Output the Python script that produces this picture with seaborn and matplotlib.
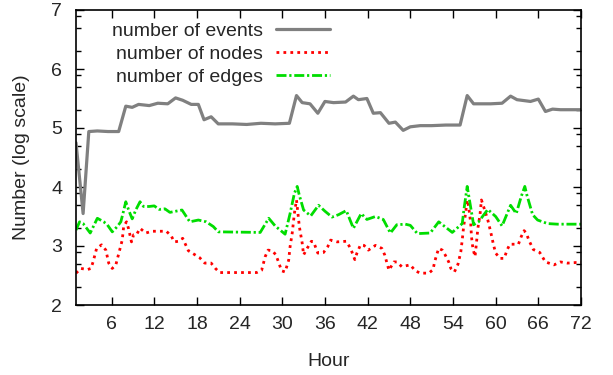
import numpy as np
import pandas as pd
import seaborn as sns
import matplotlib
matplotlib.use("Agg")
import matplotlib.pyplot as plt
from matplotlib.ticker import FixedLocator, NullLocator

# number of events (log10)
ev_x = [1, 2, 2.8, 4, 5.5, 7, 8, 8.9, 9.8, 11.3, 12.5, 13.9, 15, 16, 17.2, 18.2,
        19, 20, 21, 23, 25, 27, 29, 31, 32, 32.8, 33.9, 35, 36, 37.2, 38.9,
        40, 40.7, 41.9, 42.8, 43.8, 45, 45.9, 47, 48, 49.4, 51, 53, 55, 56,
        56.9, 59.3, 60.9, 62.1, 63, 64.9, 66, 67, 68, 69.1, 72]
ev_y = [4.75, 3.55, 4.94, 4.95, 4.94, 4.94, 5.37, 5.35, 5.40, 5.38, 5.42, 5.41,
        5.51, 5.47, 5.40, 5.40, 5.14, 5.19, 5.07, 5.07, 5.06, 5.08, 5.07, 5.08,
        5.55, 5.43, 5.41, 5.25, 5.45, 5.43, 5.44, 5.54, 5.48, 5.50, 5.25, 5.26,
        5.08, 5.10, 4.96, 5.02, 5.04, 5.04, 5.05, 5.05, 5.55, 5.41, 5.41, 5.42,
        5.54, 5.48, 5.45, 5.49, 5.28, 5.32, 5.31, 5.31]

# number of nodes (log10)
nd_x = [1, 1.7, 2.6, 3.1, 3.4, 3.9, 4.6, 5.2, 5.6, 6.1, 6.6, 7.2, 7.5, 7.7, 8.1,
        8.4, 8.8, 9.1, 9.5, 10, 10.8, 11.7, 13.7, 14.4, 14.8, 15.4, 16, 16.8,
        17.6, 18.4, 19.1, 20, 20.6, 21.2, 26.4, 27.1, 27.6, 28, 28.6, 29.1,
        29.5, 29.9, 30.4, 30.9, 31.1, 31.4, 31.7, 32, 32.1, 32.4, 32.8, 33,
        33.5, 34.1, 34.4, 35, 35.8, 36.4, 36.8, 37.7, 39, 39.6, 40.2, 40.5,
        41, 41.5, 42.1, 43.1, 44, 44.4, 45, 45.7, 46.1, 46.8, 48, 48.7, 49.4,
        50.6, 51.2, 51.4, 51.7, 52, 52.5, 52.9, 53.4, 53.7, 54.2, 54.7, 55.1,
        55.3, 55.5, 55.8, 56, 56.2, 56.5, 56.6, 56.8, 57.1, 57.3, 57.5, 57.8,
        58, 58.3, 58.9, 59.3, 59.7, 60, 60.6, 61.2, 61.6, 62, 63.2, 63.6, 64,
        64.3, 64.7, 65.3, 66.2, 67, 68.2, 69.1, 70.1, 71.3, 72]
nd_y = [2.54, 2.62, 2.60, 2.62, 2.73, 2.96, 3.02, 2.93, 2.71, 2.62, 2.68, 2.96,
        3.10, 3.33, 3.41, 3.29, 3.07, 3.19, 3.19, 3.30, 3.22, 3.25, 3.25, 3.17,
        3.07, 3.08, 3.13, 2.92, 2.86, 2.80, 2.71, 2.71, 2.62, 2.55, 2.55, 2.59,
        2.82, 2.93, 2.92, 2.85, 2.72, 2.58, 2.56, 2.76, 2.99, 3.22, 3.55, 3.78,
        3.67, 3.33, 3.05, 2.85, 2.96, 3.08, 3.07, 2.88, 2.89, 2.99, 3.10, 3.07,
        3.08, 2.96, 2.77, 2.88, 3.02, 3.01, 2.93, 3.01, 2.96, 2.85, 2.59, 2.73,
        2.73, 2.65, 2.68, 2.58, 2.54, 2.54, 2.60, 2.72, 2.85, 2.96, 2.93, 2.85,
        2.73, 2.62, 2.56, 2.69, 2.90, 3.10, 3.33, 3.58, 3.78, 3.67, 3.38, 3.16,
        2.96, 2.82, 3.05, 3.30, 3.53, 3.78, 3.67, 3.44, 3.24, 3.02, 2.88, 2.79,
        2.79, 2.93, 3.03, 3.03, 3.16, 3.26, 3.22, 3.09, 2.94, 2.89, 2.73, 2.68,
        2.73, 2.71, 2.72, 2.72]

# number of edges (log10)
ed_x = [1, 1.5, 2, 3, 4, 4.9, 5.4, 6.1, 6.8, 7.3, 7.6, 8, 8.4, 8.9, 9.4, 10,
        10.5, 11.3, 12, 12.7, 13.5, 14.2, 15.9, 17, 18.2, 19.3, 20.3, 21,
        26.9, 28.1, 29, 30.4, 31.1, 31.7, 32.1, 32.4, 33, 34, 35.1, 36, 37,
        37.9, 39, 40, 41.1, 41.9, 43.1, 44.2, 45.2, 46.1, 47.3, 48, 49, 50.8,
        52, 53.9, 55.3, 55.6, 56, 56.4, 56.9, 57.6, 58.9, 60, 60.9, 62.1, 62.9,
        63.6, 64.1, 64.4, 65.2, 65.9, 67.3, 68.7, 72]
ed_y = [3.27, 3.41, 3.38, 3.22, 3.47, 3.41, 3.36, 3.24, 3.33, 3.41, 3.55, 3.75,
        3.61, 3.46, 3.61, 3.75, 3.67, 3.67, 3.68, 3.62, 3.63, 3.57, 3.61, 3.41,
        3.44, 3.41, 3.33, 3.24, 3.23, 3.47, 3.34, 3.20, 3.55, 3.89, 4.01, 3.86,
        3.61, 3.51, 3.69, 3.59, 3.49, 3.53, 3.60, 3.30, 3.55, 3.45, 3.50, 3.45,
        3.22, 3.36, 3.37, 3.35, 3.21, 3.22, 3.41, 3.23, 3.38, 3.67, 4.01, 3.72,
        3.36, 3.41, 3.62, 3.50, 3.34, 3.69, 3.55, 3.84, 4.01, 3.86, 3.53, 3.44,
        3.38, 3.37, 3.37]

x_ticks = list(range(6, 73, 6))
y_ticks = [2, 3, 4, 5, 6, 7]

sns.set_style("ticks")
plt.rcParams['font.family'] = ['Liberation Sans', 'DejaVu Sans']
fs = 14

fig = plt.figure(figsize=(6.13, 3.75), dpi=100)
ax = fig.add_axes([76 / 613, 70 / 375, 505 / 613, 295 / 375])

sns.lineplot(x=ev_x, y=ev_y, ax=ax, color="#808080", lw=2.3,
             label="number of events", estimator=None)
sns.lineplot(x=nd_x, y=nd_y, ax=ax, color="#ff0000", lw=2.0,
             linestyle=(0, (1, 1.5)), label="number of nodes", estimator=None)
sns.lineplot(x=ed_x, y=ed_y, ax=ax, color="#00dd00", lw=2.0,
             linestyle=(0, (3.6, 1, 0.8, 1)), label="number of edges",
             estimator=None)

ax.set_xlim(1, 72)
ax.set_ylim(2, 7)
ax.set_xticks(x_ticks)
ax.set_yticks(y_ticks)
ax.xaxis.set_minor_locator(NullLocator())
minor = [n + d for n in range(2, 7) for d in (0.301, 0.699, 0.903)]
ax.yaxis.set_minor_locator(FixedLocator(minor))
ax.tick_params(which='major', direction='in', top=True, right=True,
               length=6, width=1.0, labelsize=fs, color='black')
ax.tick_params(axis='x', which='major', pad=8)
ax.tick_params(axis='y', which='major', pad=10)
ax.tick_params(which='minor', direction='in', right=True, length=3.3,
               width=1.0, color='black')
for s in ax.spines.values():
    s.set_color('black')
    s.set_linewidth(1.2)

ax.set_xlabel("Hour", fontsize=fs, labelpad=14)
ax.set_ylabel("Number (log scale)", fontsize=fs, labelpad=15)

ax.legend(loc='upper right', bbox_to_anchor=(0.503, 0.958), markerfirst=False,
          frameon=False, handlelength=2.8, handletextpad=0.65,
          labelspacing=0.28, borderpad=0, borderaxespad=0, fontsize=fs)

fig.savefig("out.png", dpi=100)
